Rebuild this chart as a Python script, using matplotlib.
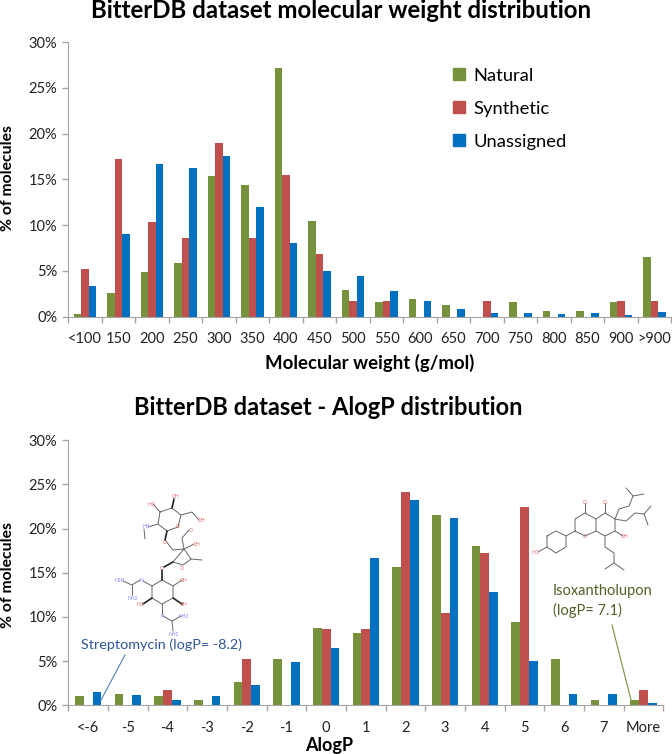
import matplotlib
matplotlib.use('Agg')
import matplotlib.pyplot as plt
import numpy as np
from matplotlib.lines import Line2D

plt.rcParams['font.family'] = ['Lato', 'DejaVu Sans']

W = 672
H = 754

mwLabels = ['<100', '150', '200', '250', '300', '350', '400', '450', '500', '550',
            '600', '650', '700', '750', '800', '850', '900', '>900']
mwNatural = [0.3, 2.6, 4.9, 5.9, 15.35, 14.4, 27.15, 10.45, 2.9, 1.6,
             1.95, 1.3, 0, 1.6, 0.65, 0.65, 1.6, 6.5]
mwSynthetic = [5.2, 17.25, 10.35, 8.6, 18.95, 8.6, 15.5, 6.9, 1.7, 1.7,
               0, 0, 1.7, 0, 0, 0, 1.7, 1.7]
mwUnassigned = [3.3, 9.0, 16.7, 16.2, 17.6, 11.95, 8.0, 5.0, 4.4, 2.8,
                1.75, 0.85, 0.45, 0.45, 0.3, 0.45, 0.15, 0.55]

logpLabels = ['<-6', '-5', '-4', '-3', '-2', '-1', '0', '1', '2', '3', '4', '5', '6', '7', 'More']
logpNatural = [1.0, 1.3, 1.0, 0.65, 2.65, 5.2, 8.8, 8.2, 15.7, 21.5, 18.0, 9.45, 5.2, 0.65, 0.65]
logpSynthetic = [0, 0, 1.75, 0, 5.2, 0, 8.6, 8.6, 24.15, 10.4, 17.25, 22.4, 0, 0, 1.75]
logpUnassigned = [1.45, 1.2, 0.6, 1.05, 2.35, 4.85, 6.5, 16.7, 23.2, 21.25, 12.85, 5.0, 1.3, 1.3, 0.25]

seriesNames = ['Natural', 'Synthetic', 'Unassigned']
colors = ['#76923c', '#c0504d', '#0070c0']
yTicks = [0, 5, 10, 15, 20, 25, 30]

# molecule sketches, in picture pixels
streptomycin = [
    [(160, 512), (172, 508), (181, 515), (178, 527), (167, 531), (158, 524), (160, 512)],
    [(160, 512), (153, 504)], [(181, 515), (192, 512), (199, 520)],
    [(158, 524), (148, 527)], [(144, 529), (145, 539)],
    [(165, 540), (173, 550), (184, 549), (191, 559), (183, 565), (173, 562), (184, 549)],
    [(184, 549), (182, 538), (189, 530)], [(184, 549), (194, 544)], [(191, 559), (202, 560)],
    [(162, 580), (173, 586), (173, 598), (162, 604), (152, 598), (152, 586), (162, 580)],
    [(173, 586), (182, 580)], [(152, 586), (143, 581)], [(140, 580), (132, 585), (123, 581)],
    [(132, 585), (132, 595)], [(162, 604), (162, 614)], [(163, 616), (172, 621), (181, 616)],
    [(172, 621), (173, 631)],
]
streptomycinBold = [
    [(172, 508), (174, 499)], [(167, 531), (165, 540)], [(173, 562), (164, 567)],
    [(162, 570), (162, 580)], [(173, 598), (182, 604)], [(152, 598), (143, 604)],
]
isoxantholupon = [
    [(547, 536), (556, 531), (566, 536), (566, 547), (556, 553), (547, 547), (547, 536)],
    [(547, 547), (538, 552)], [(566, 536), (575, 531), (575, 519), (585, 513), (596, 519),
                               (596, 531), (585, 536), (575, 531)],
    [(585, 513), (585, 503)], [(596, 519), (605, 513), (615, 519), (615, 531), (605, 536), (596, 531)],
    [(605, 513), (605, 503)], [(615, 531), (623, 536)],
    [(605, 536), (605, 547), (614, 553), (614, 563), (605, 569)], [(614, 563), (624, 570)],
    [(615, 519), (619, 509), (629, 506), (633, 496), (626, 488)], [(633, 496), (644, 494)],
    [(615, 519), (626, 521), (635, 513), (644, 514), (651, 506)], [(644, 514), (648, 525)],
]
streptoLabels = [('OH', 176, 496, '#e06666'), ('HO', 151, 504, '#e06666'), ('OH', 202, 520, '#e06666'),
                 ('HN', 146, 527, '#8080ff'), ('O', 178, 527, '#e06666'), ('O', 165, 543, '#e06666'),
                 ('OH', 197, 544, '#e06666'), ('O', 191, 530, '#e06666'), ('O', 182, 568, '#e06666'),
                 ('O', 162, 568, '#e06666'), ('OH', 184, 580, '#e06666'), ('N', 141, 580, '#8080ff'),
                 ('H2N', 120, 580, '#8080ff'), ('NH2', 133, 598, '#8080ff'), ('HO', 140, 604, '#e06666'),
                 ('OH', 184, 604, '#e06666'), ('N', 162, 616, '#8080ff'), ('NH2', 184, 616, '#8080ff'),
                 ('NH2', 174, 634, '#8080ff')]
isoLabels = [('HO', 535, 553, '#e06666'), ('O', 585, 536, '#e06666'), ('O', 585, 502, '#e06666'),
             ('O', 605, 502, '#e06666'), ('OH', 625, 536, '#e06666')]


def styleAxes(ax, labels):
    ax.set_xlim(0, len(labels))
    ax.set_ylim(0, 30)
    ax.set_yticks(yTicks)
    ax.set_yticklabels([str(t) + '%' for t in yTicks], fontsize=10.5, color='#222222')
    ax.set_xticks(np.arange(len(labels) + 1))
    ax.set_xticklabels([])
    ax.set_xticks(np.arange(len(labels)) + 0.5, minor=True)
    ax.set_xticklabels(labels, minor=True, fontsize=10.5, color='#222222')
    ax.tick_params(axis='x', which='minor', length=0, pad=11)
    ax.tick_params(axis='both', which='major', length=4, width=1, color='#a6a6a6')
    ax.tick_params(axis='y', pad=4)
    ax.spines['top'].set_visible(False)
    ax.spines['right'].set_visible(False)
    ax.spines['left'].set_color('#a6a6a6')
    ax.spines['bottom'].set_color('#a6a6a6')


def drawBars(ax, series, barWidth):
    x = np.arange(len(series[0])) + 0.5
    for i in range(3):
        ax.bar(x + (i - 1) * barWidth, series[i], barWidth, color=colors[i], label=seriesNames[i])


fig = plt.figure(figsize=(W / 100, H / 100), dpi=100)

ax1 = fig.add_axes([68.3 / W, 1 - 316.7 / H, 603 / W, 274.7 / H])
drawBars(ax1, [mwNatural, mwSynthetic, mwUnassigned], 0.221)
styleAxes(ax1, mwLabels)
handles = [Line2D([], [], linestyle='none', marker='s', markersize=8.5, color=c) for c in colors]
ax1.legend(handles, seriesNames, loc='upper left', bbox_to_anchor=(0.633, 0.906), frameon=False,
           fontsize=13.2, labelspacing=0.92, handlelength=1, handletextpad=0.3, borderpad=0, borderaxespad=0)

ax2 = fig.add_axes([68.3 / W, 1 - 705.3 / H, 595 / W, 265 / H])
drawBars(ax2, [logpNatural, logpSynthetic, logpUnassigned], 0.2225)
styleAxes(ax2, logpLabels)

fig.text(341 / W, 1 - 10 / H, 'BitterDB dataset molecular weight distribution', ha='center', va='center',
         fontsize=17.3, fontweight='bold')
fig.text(328 / W, 1 - 407 / H, 'BitterDB dataset - AlogP distribution', ha='center', va='center',
         fontsize=17, fontweight='bold')
fig.text(369.5 / W, 1 - 363 / H, 'Molecular weight (g/mol)', ha='center', va='center',
         fontsize=13.4, fontweight='bold')
fig.text(329.5 / W, 1 - 745 / H, 'AlogP', ha='center', va='center', fontsize=13, fontweight='bold')
fig.text(8 / W, 1 - 178 / H, '% of molecules', rotation=90, ha='center', va='center',
         fontsize=11.3, fontweight='bold')
fig.text(8 / W, 1 - 574.5 / H, '% of molecules', rotation=90, ha='center', va='center',
         fontsize=11.3, fontweight='bold')

# overlay in picture pixels for the callouts and molecules
over = fig.add_axes([0, 0, 1, 1])
over.set_xlim(0, W)
over.set_ylim(H, 0)
over.axis('off')
over.patch.set_alpha(0)

for seg in streptomycin + isoxantholupon:
    xs, ys = zip(*seg)
    over.plot(xs, ys, color='#666666', lw=0.7, solid_capstyle='round')
for seg in streptomycinBold:
    xs, ys = zip(*seg)
    over.plot(xs, ys, color='#222222', lw=1.2, solid_capstyle='round')
for name, x, y, c in streptoLabels + isoLabels:
    over.text(x, y, name, fontsize=3.5, color=c, ha='center', va='center')

over.plot([125, 101], [655, 700], color='#4f81bd', lw=0.8)
over.plot([612, 631], [625, 700], color='#77933c', lw=0.8)
over.text(81, 645, 'Streptomycin (logP= -8.2)', fontsize=10.4, color='#2f5597', ha='left', va='center')
over.text(553, 591, 'Isoxantholupon', fontsize=10.5, color='#4f6228', ha='left', va='center')
over.text(553, 610, '(logP= 7.1)', fontsize=10.5, color='#4f6228', ha='left', va='center')

fig.savefig('out.png', dpi=100)
